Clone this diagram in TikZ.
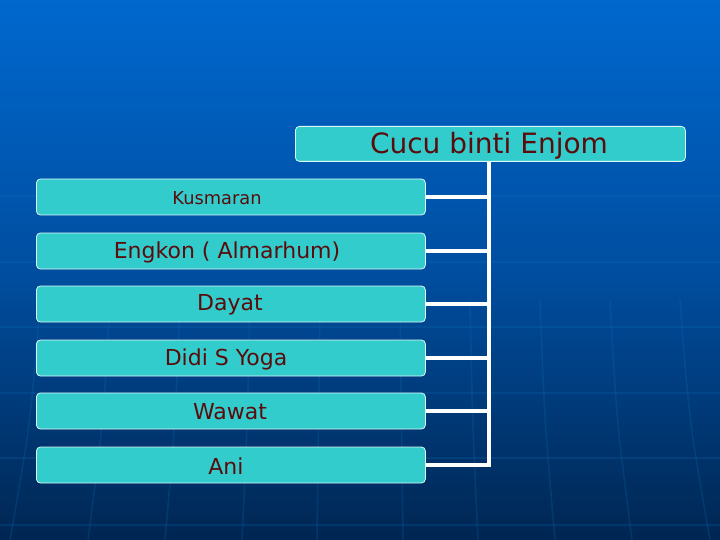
\documentclass[tikz,border=0pt]{standalone}
\usepackage{fontspec}
\setmainfont{DejaVu Sans}
\definecolor{boxfill}{RGB}{51,204,204}
\definecolor{txt}{RGB}{90,12,12}
\definecolor{bgtop}{RGB}{0,104,206}
\definecolor{bgmid}{RGB}{0,78,160}
\definecolor{bgbot}{RGB}{0,38,82}
\begin{document}
\begin{tikzpicture}[x=1pt,y=-1pt,
  box/.style={draw=white!85!boxfill, line width=0.8pt, fill=boxfill, rounded corners=4pt, text=txt, inner sep=0pt},
  link/.style={draw=white, line width=3.2pt, line join=miter},
  grid/.style={draw=cyan!60!blue, line width=1.6pt, opacity=0.18}]
\useasboundingbox (0,0) rectangle (720,540);
\shade[top color=bgtop, bottom color=bgbot, middle color=bgmid] (0,0) rectangle (720,540);
% background texture
\foreach \yy in {196,262,327,393,458,525}
  \draw[grid] (0,\yy) -- (720,\yy);
\foreach \xx/\bend in {40/-30,110/-22,180/-15,250/-8,320/-3,400/3,470/8,540/15,610/22,680/30}
  \draw[grid] (\xx,300) .. controls (\xx+\bend*0.3,420) .. (\xx+\bend,540);
% nodes
\node[box, minimum width=390, minimum height=35, anchor=north west] (root) at (295,126) {};
\node[text=txt, font=\fontsize{28}{30}\selectfont] (roottxt) at (489,145.5) {Cucu binti Enjom};
\foreach \n/\t/\xc/\yc/\fs in {k/Kusmaran/217/198/17.8, e/{Engkon ( Almarhum)}/227/252/22, d/Dayat/230/305/22, s/Didi S Yoga/226/359/22, w/Wawat/230/412/22, a/Ani/226/466/22}{
  \node[box, minimum width=389, minimum height=36, anchor=west] (\n) at (36,\yc-1) {};
  \node[text=txt, font=\fontsize{\fs}{\fs}\selectfont] (\n t) at (\xc,\yc) {\t};
}
\coordinate (trunk) at (489,465);
\draw[link] (root.south -| trunk) -- (a.east -| trunk) -- (a.east);
\foreach \n in {k,e,d,s,w}
  \draw[link] (\n.east) -- (\n.east -| trunk);
\end{tikzpicture}
\end{document}
